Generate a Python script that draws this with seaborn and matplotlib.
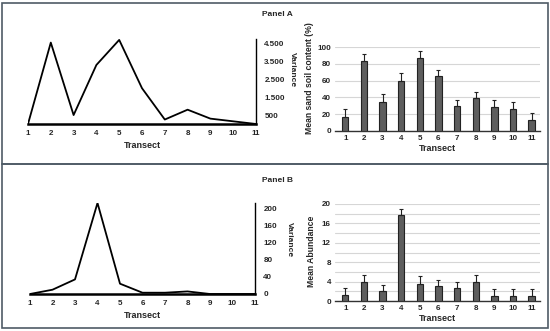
import numpy as np
import pandas as pd
import matplotlib
matplotlib.use("Agg")
import matplotlib.pyplot as plt
from matplotlib.patches import Rectangle
from matplotlib.ticker import FuncFormatter, MultipleLocator
import seaborn as sns

transects = list(range(1, 12))
labels = [str(t) for t in transects]

# Panel A
var_a = [0, 4550, 500, 3300, 4700, 2000, 250, 800, 300, 150, 0]
sand_mean = [17, 83, 35, 60, 87, 65, 30, 39, 29, 26, 13]
sand_err = [9, 9, 9, 9, 8, 8, 7, 8, 8, 8, 9]

# Panel B
var_b = [0, 10, 34, 212, 24, 3, 3, 6, 0, 0, 0]
abund_mean = [1.3, 4.0, 2.0, 17.7, 3.6, 3.0, 2.6, 4.0, 1.0, 1.0, 1.0]
abund_err = [1.4, 1.4, 1.4, 1.3, 1.5, 1.4, 1.4, 1.4, 1.4, 1.4, 1.4]

sns.set_theme(style="white")
plt.rcParams["font.family"] = ["Liberation Sans", "DejaVu Sans"]
plt.rcParams["font.weight"] = "bold"

W, H = 550, 331
fig = plt.figure(figsize=(5.5, 3.31), dpi=100)
fig.patch.set_facecolor("white")

def fx(px):
    return px / W

def fy(py):
    return 1 - py / H

border = "#4f5b66"
for top, bot in [(3, 164), (164, 328)]:
    fig.add_artist(Rectangle((fx(2), fy(bot)), fx(546), (bot - top) / H,
                             transform=fig.transFigure, fill=False,
                             edgecolor=border, linewidth=1.2))

fig.text(fx(277), fy(15), "Panel A", ha="center", va="center", fontsize=6, fontweight="bold")
fig.text(fx(277), fy(180), "Panel B", ha="center", va="center", fontsize=6, fontweight="bold")


def line_panel(rect, values, ylim, ticks, fmt, label_xy):
    ax = fig.add_axes(rect)
    df = pd.DataFrame({"Transect": transects, "Variance": values})
    sns.lineplot(data=df, x="Transect", y="Variance", ax=ax, color="black", linewidth=1.3)
    ax.set_xlim(1, 11)
    ax.set_ylim(*ylim)
    ax.set_xticks(transects)
    ax.set_xticklabels(labels)
    ax.set_yticks(ticks)
    ax.yaxis.set_major_formatter(FuncFormatter(fmt))
    ax.yaxis.tick_right()
    ax.yaxis.set_label_position("right")
    for s in ["top", "left"]:
        ax.spines[s].set_visible(False)
    ax.spines["bottom"].set_linewidth(1.8)
    ax.spines["bottom"].set_color("black")
    ax.spines["right"].set_linewidth(1.0)
    ax.spines["right"].set_color("black")
    ax.tick_params(axis="both", length=0, labelsize=5.8, pad=4)
    ax.tick_params(axis="y", pad=6)
    for t in ax.get_xticklabels() + ax.get_yticklabels():
        t.set_fontweight("bold")
    ax.set_xlabel("Transect", fontsize=6.5, fontweight="bold", labelpad=3)
    ax.set_ylabel("Variance", fontsize=6, fontweight="bold", rotation=270, va="center")
    ax.yaxis.set_label_coords(*label_xy)
    ax.set_facecolor("none")
    return ax


def bar_panel(rect, means, errs, ylim, major, minor, ylabel, label_xy):
    ax = fig.add_axes(rect)
    df = pd.DataFrame({"Transect": labels, "Mean": means})
    sns.barplot(data=df, x="Transect", y="Mean", order=labels, ax=ax,
                color="#5e5e5e", saturation=1, width=0.34,
                edgecolor="#222222", linewidth=0.8, zorder=3)
    pos = np.arange(len(labels))
    ax.errorbar(pos, means, yerr=[np.zeros(len(errs)), errs], fmt="none",
                ecolor="#222222", elinewidth=0.8, capsize=1.5, capthick=0.8, zorder=4)
    ax.set_xlim(-0.55, 10.45)
    ax.set_ylim(*ylim)
    ax.yaxis.set_major_locator(MultipleLocator(major))
    ax.yaxis.set_minor_locator(MultipleLocator(minor))
    ax.grid(axis="y", which="both", color="#d6d6d6", linewidth=0.8, zorder=0)
    ax.set_axisbelow(True)
    for s in ["top", "left", "right"]:
        ax.spines[s].set_visible(False)
    ax.spines["bottom"].set_color("#333333")
    ax.spines["bottom"].set_linewidth(1.0)
    ax.tick_params(axis="both", which="both", length=0, labelsize=5.8, pad=3)
    for t in ax.get_xticklabels() + ax.get_yticklabels():
        t.set_fontweight("bold")
    ax.set_xlabel("Transect", fontsize=6.5, fontweight="bold", labelpad=1)
    ax.set_ylabel(ylabel, fontsize=6.2, fontweight="bold", va="center")
    ax.yaxis.set_label_coords(*label_xy)
    ax.set_facecolor("none")
    return ax


def thousands(v, p):
    return f"{int(v):,}".replace(",", ".")


def plain(v, p):
    return f"{int(v)}"


line_panel([fx(28), fy(124), fx(228), (124 - 39) / H], var_a, (0, 4750),
           [500, 1500, 2500, 3500, 4500], thousands,
           ((292 - 28) / 228, (124 - 70) / 85))
line_panel([fx(30), fy(294), fx(225), (294 - 203) / H], var_b, (0, 212),
           [0, 40, 80, 120, 160, 200], plain,
           ((289 - 30) / 225, (294 - 240) / 91))

bar_panel([fx(335), fy(131), fx(205), (131 - 47) / H], sand_mean, sand_err,
          (0, 100), 20, 20, "Mean sand soil content (%)",
          ((310 - 335) / 205, (131 - 78) / 84))
bar_panel([fx(335), fy(301), fx(205), (301 - 204) / H], abund_mean, abund_err,
          (0, 20), 4, 2, "Mean Abundance",
          ((311 - 335) / 205, (301 - 251) / 97))

fig.savefig("out.png", dpi=100)
